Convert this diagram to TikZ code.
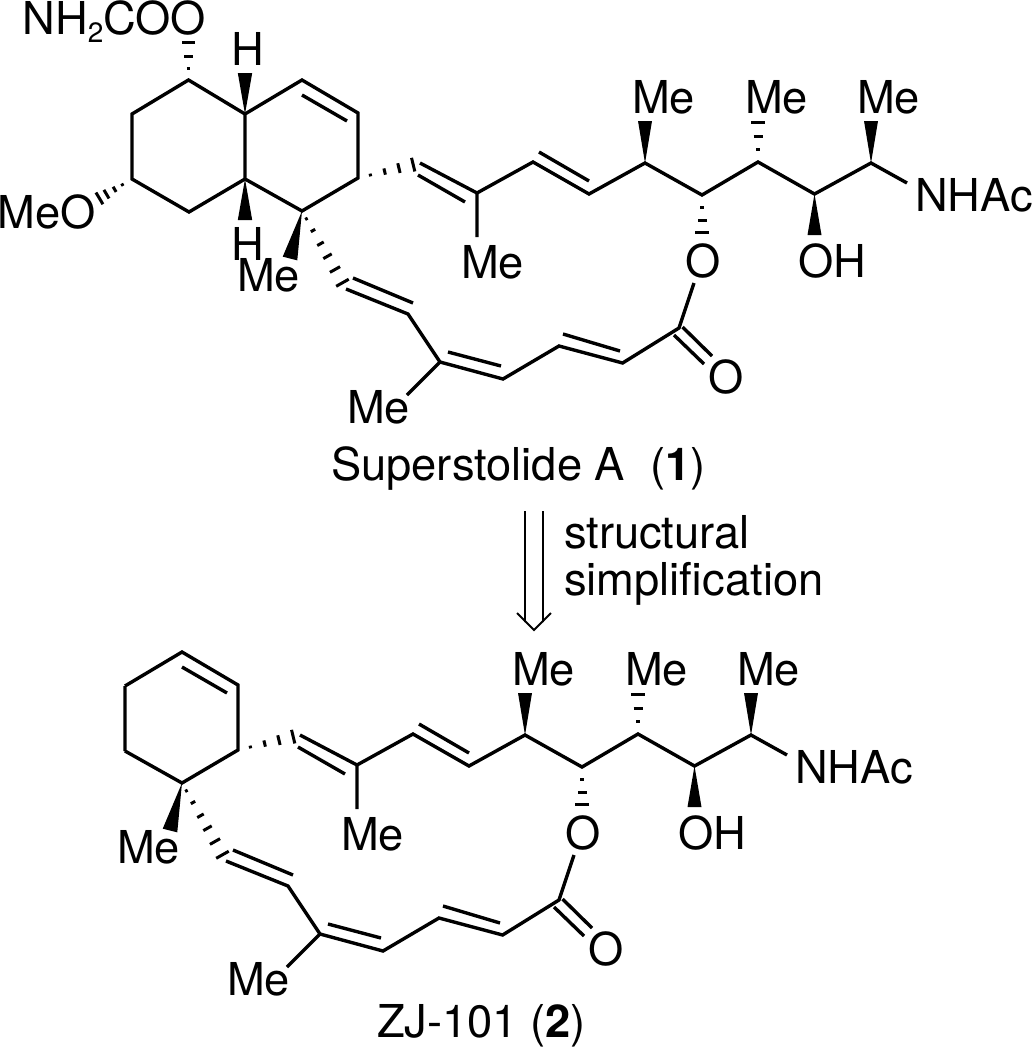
\documentclass[tikz,border=0pt]{standalone}
\usepackage{fontspec}
\setmainfont{TeX Gyre Heros}
\usetikzlibrary{calc}
\tikzset{
  bond/.style={line width=3.4pt,line cap=butt,line join=miter},
  tick/.style={line width=3pt},
  atomlabel/.style={inner sep=0pt,outer sep=0pt,font=\fontsize{45.3}{45.3}\selectfont,text=black},
  thinline/.style={line width=1.8pt,line join=miter}
}
\newcommand\wedgebond[3]{\fill[black] (#1) -- ($(#2)!#3pt!90:(#1)$) -- ($(#2)!#3pt!-90:(#1)$) -- cycle;}
% hash ticks: from, to, list of fraction/half-length
\newcommand\hashbond[3]{\foreach \tt/\hh in {#3}{\draw[tick] ($(#1)!\tt!(#2)!\hh pt!90:(#2)$) -- ($(#1)!\tt!(#2)!\hh pt!-90:(#2)$);}}
\newcommand\macrocycle[1]{%
  % ring atoms shared by both compounds
  \coordinate (f) at (245,114);
  \coordinate (g) at (302,80);
  \coordinate (h) at (358,113);
  \coordinate (i) at (358,178);
  \coordinate (j) at (302,211);
  \coordinate (e) at (245,179);
  \coordinate (gp) at (302,95);
  \coordinate (hp) at (347,121);
  % upper chain
  \coordinate (k) at (420,163);
  \coordinate (kp) at (418,175);
  \coordinate (l) at (477,193);
  \coordinate (lp) at (465,202);
  \coordinate (lme) at (477,237);
  \coordinate (m) at (533,162);
  \coordinate (mp) at (539,152);
  \coordinate (n) at (589,194);
  \coordinate (np) at (589,181);
  \coordinate (o) at (645,163);
  \coordinate (ow) at (645,121);
  \coordinate (p) at (702,195);
  \coordinate (ph) at (702,237);
  \coordinate (q) at (758,162);
  \coordinate (qh) at (758,119);
  \coordinate (r) at (814.5,194);
  \coordinate (rw) at (814.5,235);
  \coordinate (s) at (871,163);
  \coordinate (sw) at (871,121);
  \coordinate (nb) at (907,183);
  % lower chain
  \coordinate (est) at (694,283);
  \coordinate (t) at (679,328);
  \coordinate (c1a) at (674,335);
  \coordinate (c1b) at (704,364);
  \coordinate (c2a) at (682.5,327);
  \coordinate (c2b) at (712,356);
  \coordinate (u) at (622.6,363);
  \coordinate (v) at (559,346);
  \coordinate (vp) at (563,334);
  \coordinate (up) at (620,351);
  \coordinate (w) at (503,379);
  \coordinate (wp) at (501,366);
  \coordinate (x) at (440,362);
  \coordinate (xp) at (448,352);
  \coordinate (xme) at (407,395);
  \coordinate (y) at (408,314);
  \coordinate (yp) at (413,303);
  \coordinate (z) at (346,289);
  \coordinate (zp) at (353,278);
  \coordinate (jm) at (290,258.5);
  % bonds
  \draw[bond] (e) -- (f) (f) -- (g) -- (h) -- (i) -- (j) -- (e);
  \draw[bond] (gp) -- (hp);
  \draw[bond] (k) -- (l) -- (m) -- (n) -- (o) -- (p) -- (q) -- (r) -- (s) -- (nb);
  \draw[bond] (kp) -- (lp) (mp) -- (np) (l) -- (lme);
  \draw[bond] (est) -- (t) -- (u) -- (v) -- (w) -- (x) -- (y) -- (z);
  \draw[bond] (c1a) -- (c1b) (c2a) -- (c2b);
  \draw[bond] (vp) -- (up) (wp) -- (xp) (yp) -- (zp) (x) -- (xme);
  % stereo bonds
  \wedgebond{j}{jm}{7.5}
  \wedgebond{o}{ow}{7}
  \wedgebond{r}{rw}{7}
  \wedgebond{s}{sw}{7}
  \hashbond{i}{k}{0.2/1.4,0.43/3.2,0.66/5,0.89/7}
  \hashbond{j}{z}{0.1/1.4,0.25/2.5,0.42/3.7,0.58/4.8,0.75/5.8,0.92/7.2}
  \hashbond{p}{ph}{0.29/1.6,0.6/4.5,0.9/7}
  \hashbond{q}{qh}{0.3/1.6,0.6/4.5,0.92/7}
  % labels
  \node[atomlabel,anchor=base west] (meA#1) at (632,113) {Me};
  \node[atomlabel,anchor=base west] (meB#1) at (745,113) {Me};
  \node[atomlabel,anchor=base west] (meC#1) at (857,113) {Me};
  \node[atomlabel,anchor=base west] (nhac#1) at (915,211) {NHAc};
  \node[atomlabel,anchor=base] (oh#1) at (832,277) {OH};
  \node[atomlabel,anchor=base] (oest#1) at (703,277) {O};
  \node[atomlabel,anchor=base] (ocarb#1) at (726,393) {O};
  \node[atomlabel,anchor=base west] (meD#1) at (461,278) {Me};
  \node[atomlabel,anchor=base west] (meE#1) at (237,291) {Me};
  \node[atomlabel,anchor=base west] (meF#1) at (347,423) {Me};
}
\begin{document}
\begin{tikzpicture}[x=1pt,y=-1pt]
\useasboundingbox (0,0) rectangle (1032,1050);
% compound 1
\macrocycle{one}
\coordinate (a) at (188.5,80);
\coordinate (b) at (132,114);
\coordinate (c) at (132,179);
\coordinate (d) at (189,212);
\coordinate (aO) at (188.5,40);
\coordinate (cO) at (95,201);
\coordinate (fw) at (245,73);
\coordinate (ew) at (245,220);
\draw[bond] (f) -- (a) -- (b) -- (c) -- (d) -- (e);
\wedgebond{f}{fw}{7.2}
\wedgebond{e}{ew}{7.2}
\hashbond{a}{aO}{0.3/1.6,0.58/4.5,0.93/6.5}
\hashbond{c}{cO}{0.26/1.4,0.47/3,0.69/5,0.88/6.8}
\node[atomlabel,anchor=base west] (carb) at (22.5,34) {NH\raisebox{-8pt}{\fontsize{28}{28}\selectfont 2}COO};
\node[atomlabel,anchor=base west] (meo) at (-2,228) {MeO};
\node[atomlabel,anchor=base] (hA) at (248,65) {H};
\node[atomlabel,anchor=base] (hB) at (248,260) {H};
\node[atomlabel,anchor=base west] (capA) at (331,480) {Superstolide A\ \ (\textbf{1})};
% retro arrow
\coordinate (al) at (525,511);
\coordinate (alb) at (525,622);
\coordinate (ar) at (543,511);
\coordinate (arb) at (543,622);
\coordinate (hl) at (517,613);
\coordinate (ht) at (534,630);
\coordinate (hr) at (551,613);
\draw[thinline] (al) -- (alb) (ar) -- (arb) (hl) -- (ht) -- (hr);
\node[atomlabel,anchor=base west] (st) at (564,548) {structural};
\node[atomlabel,anchor=base west] (si) at (564,595) {simplification};
% compound 2
\begin{scope}[shift={(-120pt,-572pt)}]
\macrocycle{two}
\end{scope}
\node[atomlabel,anchor=base west] (capB) at (377,1037) {ZJ-101 (\textbf{2})};
\end{tikzpicture}
\end{document}
